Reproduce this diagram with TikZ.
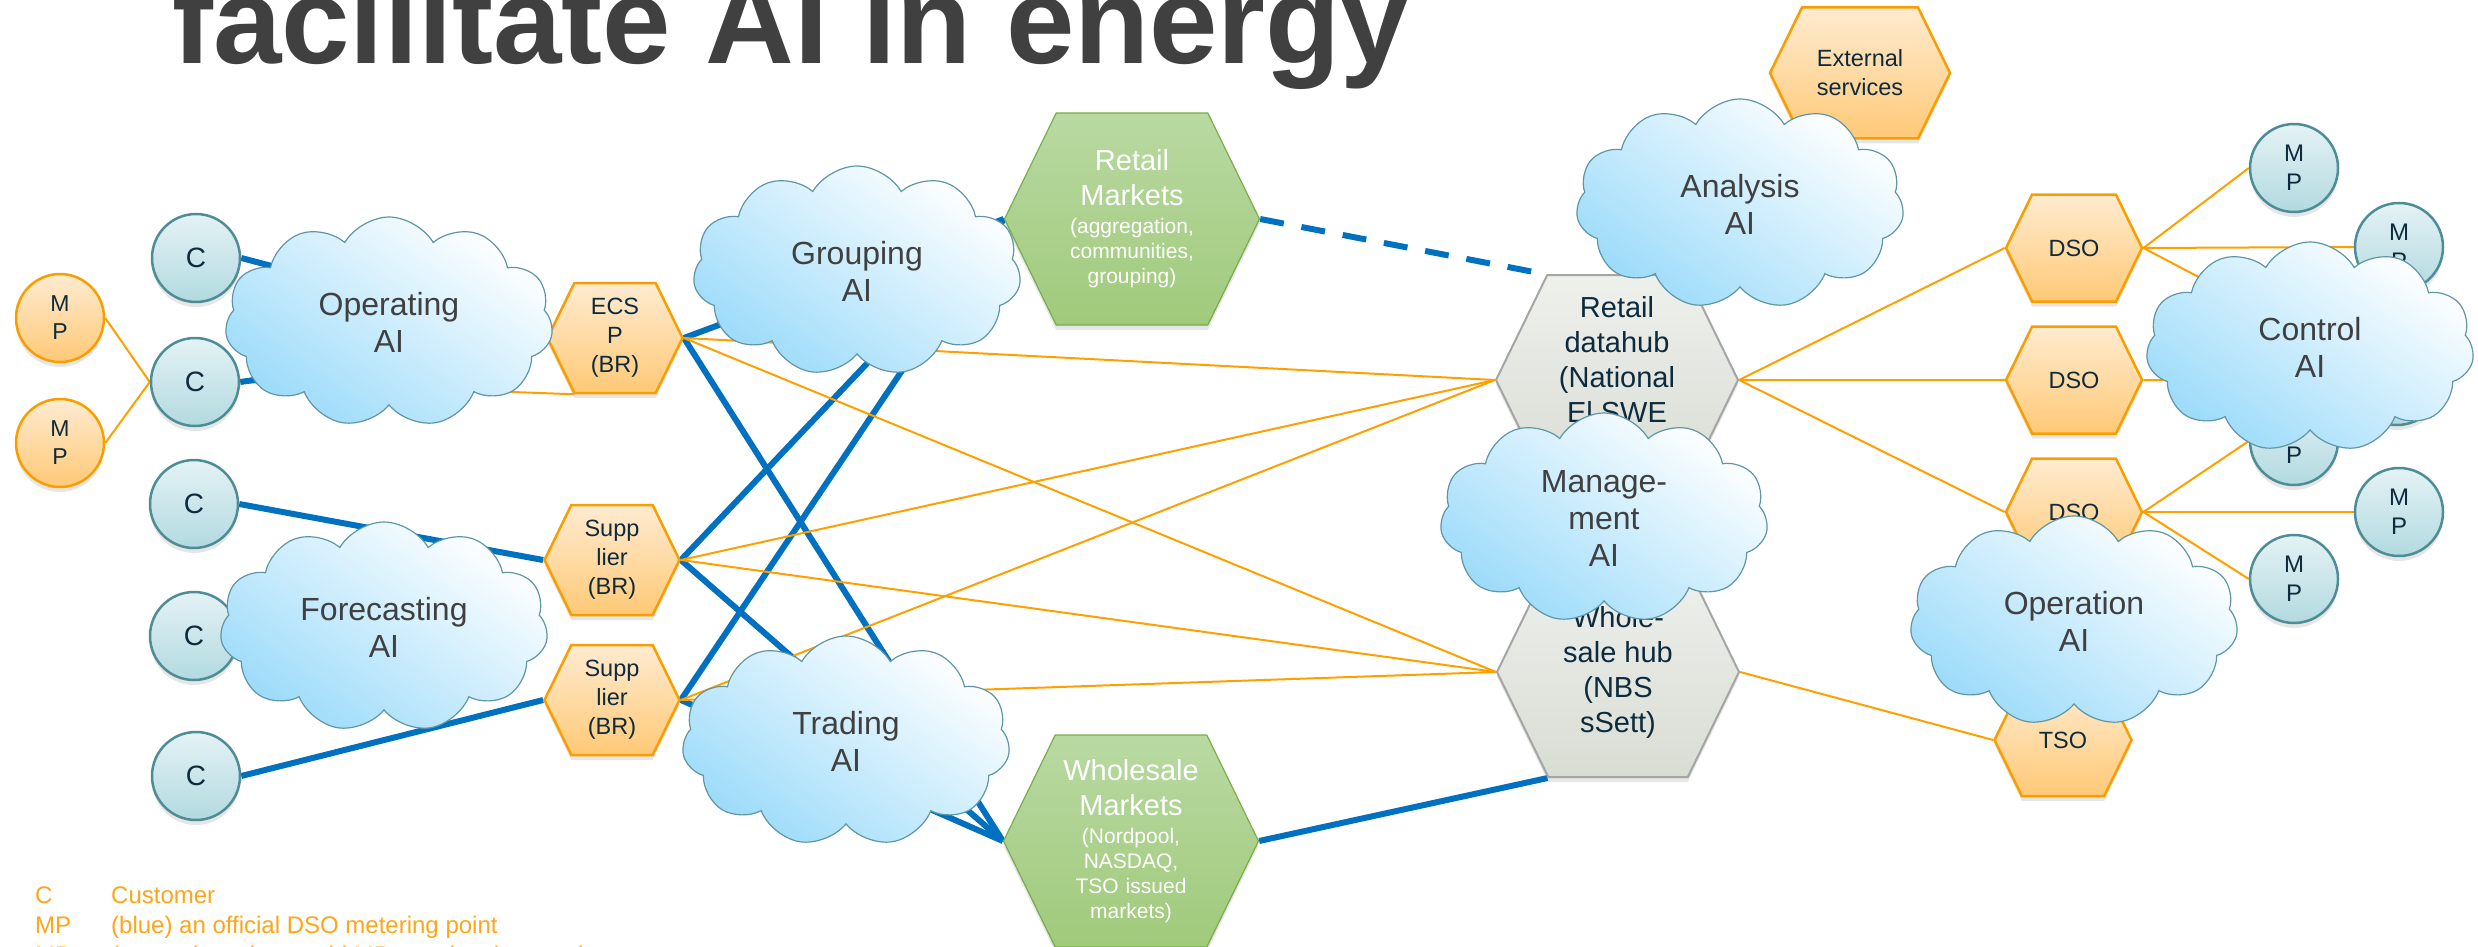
\documentclass[tikz,border=0pt]{standalone}
\usepackage{fontspec}
\setmainfont{Liberation Sans}
\usetikzlibrary{positioning, shapes.symbols, shadows, backgrounds}

\definecolor{titleGray}{HTML}{404040}
\definecolor{aiText}{HTML}{404040}
\definecolor{navyText}{HTML}{0E2B3D}
\definecolor{custTop}{HTML}{E4F2F5}
\definecolor{custBot}{HTML}{B2DAE0}
\definecolor{custEdge}{HTML}{4E8C96}
\definecolor{orTop}{HTML}{FFEBD0}
\definecolor{orBot}{HTML}{FFC977}
\definecolor{orEdge}{HTML}{FA9E00}
\definecolor{cloudBlue}{HTML}{9CDBFA}
\definecolor{cloudEdge}{HTML}{5F96A6}
\definecolor{greenTop}{HTML}{B9D9A2}
\definecolor{greenBot}{HTML}{A0CA7B}
\definecolor{greenEdge}{HTML}{79AD4B}
\definecolor{hubTop}{HTML}{EEF0EC}
\definecolor{hubBot}{HTML}{D8DDD4}
\definecolor{hubEdge}{HTML}{A5A5A5}
\definecolor{wireBlue}{HTML}{0070C0}
\definecolor{wireOrange}{HTML}{FFA000}
\definecolor{legendOrange}{HTML}{FFA51A}

\begin{document}
\begin{tikzpicture}[
    x=1pt, y=-1pt,
    lift/.style={drop shadow={shadow xshift=0pt, shadow yshift=-5pt, opacity=.2}},
    cust/.style={circle, draw=custEdge, line width=2.5pt, top color=custTop, bottom color=custBot,
      minimum size=88pt, inner sep=0pt, align=center, text=navyText, font=\fontsize{28}{29}\selectfont, lift},
    mpb/.style={cust, font=\fontsize{24}{29}\selectfont},
    mpo/.style={cust, draw=orEdge, top color=orTop, bottom color=orBot, font=\fontsize{23}{28}\selectfont},
    ai/.style={cloud, cloud puffs=11, cloud puff arc=120, aspect=1.56, draw=cloudEdge, line width=1.2pt,
      top color=white, bottom color=cloudBlue, shading angle=-35, minimum width=328pt, minimum height=210pt,
      inner sep=0pt, align=center, text=aiText, font=\fontsize{32}{37}\selectfont},
    hexa/.style={signal, signal to=east and west, signal pointer angle=128, inner sep=0pt, align=center, lift},
    br/.style={hexa, draw=orEdge, line width=2.5pt, top color=orTop, bottom color=orBot, text=navyText,
      font=\fontsize{23.5}{29}\selectfont, minimum width=135pt, minimum height=110pt},
    market/.style={hexa, draw=greenEdge, line width=1.2pt, top color=greenTop, bottom color=greenBot,
      text=white, text width=148pt, font=\fontsize{21}{25}\selectfont, minimum width=255pt, minimum height=212pt},
    hub/.style={hexa, draw=hubEdge, line width=2pt, top color=hubTop, bottom color=hubBot, text=navyText,
      font=\fontsize{29}{35}\selectfont, minimum width=242pt, minimum height=210pt},
    bluewire/.style={draw=wireBlue, line width=6pt},
    orwire/.style={draw=wireOrange, line width=2pt},
]
\useasboundingbox (0,0) rectangle (2478,947);
\clip (0,0) rectangle (2478,947);

% Title and legend
\node[anchor=base west, inner sep=0pt, text=titleGray, font=\fontsize{123}{123}\selectfont\bfseries] (title) at (172,64) {facilitate AI in energy};
\node[anchor=base west, inner sep=0pt, text=legendOrange, font=\fontsize{24}{30}\selectfont] (legend) at (35,903)
  {\begin{tabular}[t]{@{}p{76pt}@{}l@{}}
   C & Customer\\
   MP & (blue) an official DSO metering point\\
   MP & (orange) a private grid MP on a local network
   \end{tabular}};

% Customers and metering points (left)
\node[mpo] (mp1) at (60,318) {M\\P};
\node[mpo] (mp2) at (60,443) {M\\P};
\node[cust] (c1) at (196,258) {C};
\node[cust] (c2) at (195,382) {C};
\node[cust] (c3) at (194,504) {C};
\node[cust] (c4) at (194,636) {C};
\node[cust] (c5) at (196,776) {C};

% Balance responsible parties
\node[br] (ecsp) at (615,338) {ECS\\P\\(BR)};
\node[br] (supa) at (612,560) {Supp\\lier\\(BR)};
\node[br] (supb) at (612,700) {Supp\\lier\\(BR)};

% Markets and hubs
\node[market] (retail) at (1132,219) {{\fontsize{29}{35}\selectfont Retail\\Markets\par}\vspace{3pt}
  (aggregation,\\communities,\\grouping)\par};
\node[market] (wholesale) at (1131,841) {{\fontsize{29}{35}\selectfont Wholesale\\Markets\par}\vspace{3pt}
  (Nordpool,\\NASDAQ,\\TSO issued\\markets)\par};
\node[hub] (datahub) at (1617,380) {Retail\\datahub\\(National\\El SWE\\hub)};
\node[hub] (whub) at (1618,672) {Whole-\\sale hub\\(NBS\\sSett)};
\node[br, minimum width=180pt, minimum height=131pt] (external) at (1860,73) {External\\services};

% Grid operators and metering points (right)
\node[br, minimum width=136pt, minimum height=107pt] (dso1) at (2074,248) {DSO};
\node[br, minimum width=136pt, minimum height=107pt] (dso2) at (2074,380) {DSO};
\node[br, minimum width=136pt, minimum height=107pt] (dso3) at (2074,512) {DSO};
\node[br, minimum width=137pt, minimum height=112pt] (tso) at (2063,740) {TSO};
\node[mpb] (mpr1) at (2294,168) {M\\P};
\node[mpb] (mpr2) at (2399,247) {M\\P};
\coordinate (mpr3) at (2252,305);
\node[mpb] (mpr4) at (2397,381) {M\\P};
\node[mpb] (mpr5) at (2294,441) {M\\P};
\node[mpb] (mpr6) at (2399,512) {M\\P};
\node[mpb] (mpr7) at (2294,579) {M\\P};

% AI clouds
\node[ai] (operating) at (389,322) {Operating\\AI};
\node[ai] (forecasting) at (384,627) {Forecasting\\AI};
\node[ai] (grouping) at (857,271) {Grouping\\AI};
\node[ai] (trading) at (846,741) {Trading\\AI};
\node[ai] (analysis) at (1740,204) {Analysis\\AI};
\node[ai] (management) at (1604,518) {Manage-\\ment\\AI};
\node[ai] (control) at (2310,347) {Control\\AI};
\node[ai] (operation) at (2074,621) {Operation\\AI};

% Connections, behind the shapes
\begin{scope}[on background layer]
\draw[orwire] (mp1.east) -- (c2.west);
\draw[orwire] (mp2.east) -- (c2.west);
\draw[orwire] (c2.east) -- (ecsp.south west);
\draw[bluewire] (c1.east) -- (ecsp.west);
\draw[bluewire] (c2.east) -- (ecsp.west);
\draw[bluewire] (c3.east) -- (supa.west);
\draw[bluewire] (c5.east) -- (supb.west);

\draw[bluewire] (ecsp.east) -- (retail.west);
\draw[bluewire] (supa.east) -- (retail.west);
\draw[bluewire] (supb.east) -- (retail.west);
\draw[bluewire] (ecsp.east) -- (wholesale.west);
\draw[bluewire] (supa.east) -- (wholesale.west);
\draw[bluewire] (supb.east) -- (wholesale.west);
\draw[orwire] (ecsp.east) -- (datahub.west);
\draw[orwire] (supa.east) -- (datahub.west);
\draw[orwire] (supb.east) -- (datahub.west);
\draw[orwire] (ecsp.east) -- (whub.west);
\draw[orwire] (supa.east) -- (whub.west);
\draw[orwire] (supb.east) -- (whub.west);

\draw[bluewire, dash pattern=on 24pt off 18pt] (retail.east) -- (datahub.north west);
\draw[bluewire] (wholesale.east) -- (whub.south west);

\draw[orwire] (datahub.east) -- (dso1.west);
\draw[orwire] (datahub.east) -- (dso2.west);
\draw[orwire] (datahub.east) -- (dso3.west);
\draw[orwire] (whub.east) -- (tso.west);

\draw[orwire] (dso1.east) -- (mpr1.west);
\draw[orwire] (dso1.east) -- (mpr2.west);
\draw[orwire] (dso1.east) -- (mpr3);
\draw[orwire] (dso2.east) -- (mpr4.west);
\draw[orwire] (dso3.east) -- (mpr5.west);
\draw[orwire] (dso3.east) -- (mpr6.west);
\draw[orwire] (dso3.east) -- (mpr7.west);
\end{scope}
\end{tikzpicture}
\end{document}
